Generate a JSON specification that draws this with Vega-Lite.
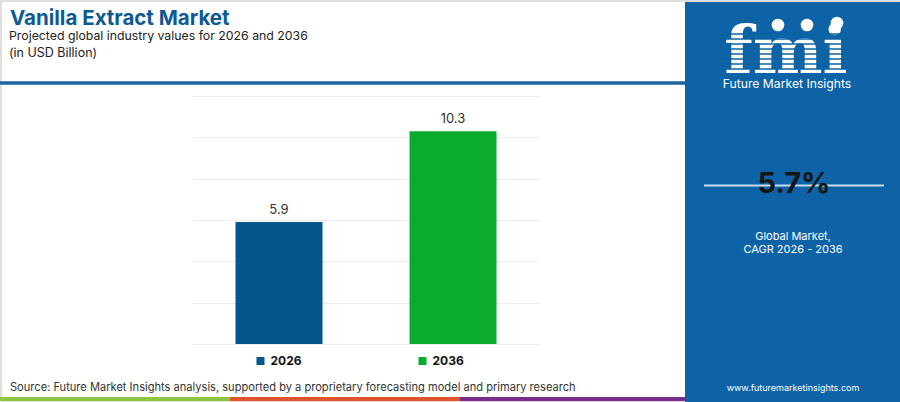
{
  "$schema": "https://vega.github.io/schema/vega-lite/v6.json",
  "width": 348,
  "height": 248,
  "autosize": {"type": "none"},
  "padding": {"left": 192, "top": 96, "right": 360, "bottom": 58},
  "background": "white",
  "config": {"view": {"stroke": null}, "font": "Inter"},
  "layer": [
    {
      "data": {"values": [{}]},
      "mark": {"type": "rect", "fill": null, "stroke": "#d4d4d4", "strokeWidth": 1.5},
      "encoding": {"x": {"value": -191}, "x2": {"value": 707}, "y": {"value": -95}, "y2": {"value": 305}}
    },
    {
      "data": {"values": [{}]},
      "mark": {"type": "rect", "fill": "#0d63a5"},
      "encoding": {"x": {"value": 493}, "x2": {"value": 708}, "y": {"value": -94}, "y2": {"value": 306}}
    },
    {
      "data": {"values": [{}]},
      "mark": {"type": "rule", "color": "#1c64a0", "strokeWidth": 3.5},
      "encoding": {"x": {"value": -192}, "x2": {"value": 493}, "y": {"value": -13}}
    },
    {
      "data": {"values": [{}]},
      "mark": {"type": "rule", "color": "#8dc63f", "strokeWidth": 4},
      "encoding": {"x": {"value": -192}, "x2": {"value": 38}, "y": {"value": 303}}
    },
    {
      "data": {"values": [{}]},
      "mark": {"type": "rule", "color": "#e1552b", "strokeWidth": 4},
      "encoding": {"x": {"value": 38}, "x2": {"value": 268}, "y": {"value": 303}}
    },
    {
      "data": {"values": [{}]},
      "mark": {"type": "rule", "color": "#7b2d8b", "strokeWidth": 4},
      "encoding": {"x": {"value": 268}, "x2": {"value": 493}, "y": {"value": 303}}
    },
    {
      "data": {"values": [
        {"year": "2026", "value": 5.9},
        {"year": "2036", "value": 10.3}
      ]},
      "mark": {"type": "bar"},
      "encoding": {
        "x": {"field": "year", "type": "nominal", "axis": null, "scale": {"paddingInner": 0.5, "paddingOuter": 0.25}},
        "y": {
          "field": "value", "type": "quantitative",
          "scale": {"domain": [0, 12], "nice": false},
          "axis": {"values": [0, 2, 4, 6, 8, 10, 12], "grid": true, "gridColor": "#ececec", "gridWidth": 1, "labels": false, "ticks": false, "domain": false, "title": null}
        },
        "color": {
          "field": "year", "type": "nominal",
          "scale": {"domain": ["2026", "2036"], "range": ["#04568c", "#0aab2e"]},
          "legend": {
            "title": null, "orient": "none", "direction": "horizontal",
            "legendX": 62.5, "legendY": 259, "padding": 0,
            "symbolType": "square", "symbolSize": 64, "symbolStrokeWidth": 0,
            "labelFontSize": 12, "labelFontWeight": "bold", "labelColor": "#111111", "labelFont": "Inter",
            "labelOffset": 4, "columnPadding": 114
          }
        }
      }
    },
    {
      "data": {"values": [
        {"year": "2026", "value": 5.9},
        {"year": "2036", "value": 10.3}
      ]},
      "mark": {"type": "text", "baseline": "alphabetic", "dy": -8, "fontSize": 13, "color": "#333333"},
      "encoding": {
        "x": {"field": "year", "type": "nominal"},
        "y": {"field": "value", "type": "quantitative"},
        "text": {"field": "value", "type": "quantitative", "format": ".1f"}
      }
    },
    {
      "data": {"values": [{}]},
      "mark": {"type": "text", "text": "Vanilla Extract Market", "align": "left", "baseline": "alphabetic", "fontSize": 20.5, "fontWeight": "bold", "color": "#0d5a92"},
      "encoding": {"x": {"value": -182}, "y": {"value": -71}}
    },
    {
      "data": {"values": [{}]},
      "mark": {"type": "text", "text": "Projected global industry values for 2026 and 2036", "align": "left", "baseline": "alphabetic", "fontSize": 12.3, "color": "#222222"},
      "encoding": {"x": {"value": -183}, "y": {"value": -56}}
    },
    {
      "data": {"values": [{}]},
      "mark": {"type": "text", "text": "(in USD Billion)", "align": "left", "baseline": "alphabetic", "fontSize": 12.5, "color": "#222222"},
      "encoding": {"x": {"value": -183}, "y": {"value": -39}}
    },
    {
      "data": {"values": [{}]},
      "mark": {"type": "text", "text": "Source: Future Market Insights analysis, supported by a proprietary forecasting model and primary research", "align": "left", "baseline": "alphabetic", "fontSize": 11.1, "color": "#333333"},
      "encoding": {"x": {"value": -182}, "y": {"value": 295}}
    },
    {
      "data": {"values": [{}]},
      "mark": {"type": "text", "text": "fmi", "align": "center", "baseline": "alphabetic", "fontSize": 66, "fontWeight": "bold", "font": "DejaVu Serif", "color": "white"},
      "encoding": {"x": {"value": 594}, "y": {"value": -23}}
    },
    {
      "data": {"values": [{}]},
      "mark": {"type": "rule", "color": "#0d63a5", "strokeWidth": 1.3},
      "encoding": {"x": {"value": 525}, "x2": {"value": 665}, "y": {"value": -62}}
    },
    {
      "data": {"values": [{}]},
      "mark": {"type": "rule", "color": "#0d63a5", "strokeWidth": 1.3},
      "encoding": {"x": {"value": 525}, "x2": {"value": 665}, "y": {"value": -57}}
    },
    {
      "data": {"values": [{}]},
      "mark": {"type": "rule", "color": "#0d63a5", "strokeWidth": 1.3},
      "encoding": {"x": {"value": 525}, "x2": {"value": 665}, "y": {"value": -52}}
    },
    {
      "data": {"values": [{}]},
      "mark": {"type": "rule", "color": "#0d63a5", "strokeWidth": 1.3},
      "encoding": {"x": {"value": 525}, "x2": {"value": 665}, "y": {"value": -47}}
    },
    {
      "data": {"values": [{}]},
      "mark": {"type": "rule", "color": "#0d63a5", "strokeWidth": 1.3},
      "encoding": {"x": {"value": 525}, "x2": {"value": 665}, "y": {"value": -42}}
    },
    {
      "data": {"values": [{}]},
      "mark": {"type": "rule", "color": "#0d63a5", "strokeWidth": 1.3},
      "encoding": {"x": {"value": 525}, "x2": {"value": 665}, "y": {"value": -37}}
    },
    {
      "data": {"values": [{}]},
      "mark": {"type": "rule", "color": "#0d63a5", "strokeWidth": 1.3},
      "encoding": {"x": {"value": 525}, "x2": {"value": 665}, "y": {"value": -32}}
    },
    {
      "data": {"values": [{}]},
      "mark": {"type": "rule", "color": "#0d63a5", "strokeWidth": 1.3},
      "encoding": {"x": {"value": 525}, "x2": {"value": 665}, "y": {"value": -27}}
    },
    {
      "data": {"values": [{}]},
      "mark": {"type": "point", "shape": "circle", "filled": true, "size": 160, "color": "white", "opacity": 1},
      "encoding": {"x": {"value": 586}, "y": {"value": -71}}
    },
    {
      "data": {"values": [{}]},
      "mark": {"type": "point", "shape": "circle", "filled": true, "size": 160, "color": "white", "opacity": 1},
      "encoding": {"x": {"value": 615}, "y": {"value": -71}}
    },
    {
      "data": {"values": [{}]},
      "mark": {"type": "point", "shape": "circle", "filled": true, "size": 160, "color": "white", "opacity": 1},
      "encoding": {"x": {"value": 645}, "y": {"value": -73}}
    },
    {
      "data": {"values": [{}]},
      "mark": {"type": "text", "text": "Future Market Insights", "align": "center", "baseline": "alphabetic", "fontSize": 12.2, "color": "white"},
      "encoding": {"x": {"value": 595}, "y": {"value": -8}}
    },
    {
      "data": {"values": [{}]},
      "mark": {"type": "rule", "color": "#c9dced", "strokeWidth": 2},
      "encoding": {"x": {"value": 512}, "x2": {"value": 692}, "y": {"value": 89.5}}
    },
    {
      "data": {"values": [{}]},
      "mark": {"type": "text", "text": "5.7%", "align": "center", "baseline": "alphabetic", "fontSize": 29, "fontWeight": "bold", "color": "#151515"},
      "encoding": {"x": {"value": 602}, "y": {"value": 97}}
    },
    {
      "data": {"values": [{}]},
      "mark": {"type": "text", "text": "Global Market,", "align": "center", "baseline": "alphabetic", "fontSize": 11, "color": "white"},
      "encoding": {"x": {"value": 601}, "y": {"value": 144}}
    },
    {
      "data": {"values": [{}]},
      "mark": {"type": "text", "text": "CAGR 2026 - 2036", "align": "center", "baseline": "alphabetic", "fontSize": 11, "color": "white"},
      "encoding": {"x": {"value": 601}, "y": {"value": 157}}
    },
    {
      "data": {"values": [{}]},
      "mark": {"type": "text", "text": "www.futuremarketinsights.com", "align": "center", "baseline": "alphabetic", "fontSize": 9, "color": "white"},
      "encoding": {"x": {"value": 601}, "y": {"value": 295}}
    }
  ]
}
